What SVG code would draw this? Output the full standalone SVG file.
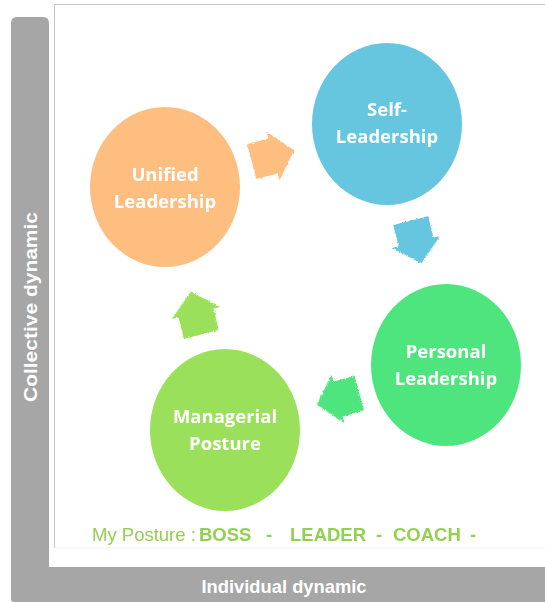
<svg xmlns="http://www.w3.org/2000/svg" width="545" height="603" viewBox="0 0 545 603">
<defs>
<style>
.node-text{font-family:"Open Sans","Noto Sans",sans-serif;font-weight:700;font-size:18.5px;fill:#ffffff;text-anchor:middle}
.axis{font-family:"Liberation Sans",Arial,sans-serif;font-weight:700;font-size:19px;fill:#ffffff;text-anchor:middle}
.posture{font-family:"Liberation Sans",Arial,sans-serif;font-size:18.5px;fill:#92D050}
.posture-b{font-weight:700}
</style>
<filter id="rough" x="-20%" y="-20%" width="140%" height="140%">
<feTurbulence type="fractalNoise" baseFrequency="0.6" numOctaves="2" seed="3" result="n"/>
<feDisplacementMap in="SourceGraphic" in2="n" scale="3" xChannelSelector="R" yChannelSelector="G"/>
</filter>
<path id="arrow" d="M-22,-18 L0,-18 L0,-25 L22,0 L0,25 L0,18 L-22,18 Z"/>
</defs>
<rect width="545" height="603" fill="#ffffff"/>
<g id="axes">
<path d="M11,23 Q11,17 17,17 L43,17 Q49,17 49,23 L49,567 L545,567 L545,602 L14,602 Q11,602 11,599 Z" fill="#A6A6A6"/>
<line x1="54.5" y1="4.5" x2="545" y2="4.5" stroke="#C4C4C4" stroke-width="1"/>
<line x1="54.5" y1="4.5" x2="54.5" y2="548" stroke="#C4C4C4" stroke-width="1"/>
<line x1="54.5" y1="548" x2="545" y2="548" stroke="#F2F2F2" stroke-width="1"/>
<text class="axis" transform="translate(37,307) rotate(-90)" textLength="190" lengthAdjust="spacingAndGlyphs">Collective dynamic</text>
<text class="axis" x="284" y="593" textLength="165" lengthAdjust="spacingAndGlyphs">Individual dynamic</text>
</g>
<g id="connectors" filter="url(#rough)">
<use href="#arrow" fill="#FDBE80" transform="translate(273,156) rotate(-15)"/>
<use href="#arrow" fill="#66C6DF" transform="translate(416,242) rotate(76)"/>
<use href="#arrow" fill="#4FE57E" transform="translate(338,399) rotate(165)"/>
<use href="#arrow" fill="#9BE05A" transform="translate(196,313) rotate(-104)"/>
</g>
<g id="node-self">
<ellipse cx="387" cy="124" rx="75" ry="81" fill="#66C6DF"/>
<text class="node-text" x="387" y="116">Self-</text>
<text class="node-text" x="387" y="143">Leadership</text>
</g>
<g id="node-unified">
<ellipse cx="165" cy="187" rx="75" ry="80" fill="#FDBE80"/>
<text class="node-text" x="165" y="181">Unified</text>
<text class="node-text" x="165" y="208">Leadership</text>
</g>
<g id="node-personal">
<ellipse cx="446" cy="365" rx="75" ry="81" fill="#4FE57E"/>
<text class="node-text" x="446" y="358">Personal</text>
<text class="node-text" x="446" y="385">Leadership</text>
</g>
<g id="node-managerial">
<ellipse cx="225" cy="430" rx="75" ry="81" fill="#9BE05A"/>
<text class="node-text" x="225" y="423">Managerial</text>
<text class="node-text" x="225" y="450">Posture</text>
</g>
<g id="posture-line">
<text class="posture" x="92" y="541">My Posture :</text>
<text class="posture posture-b" x="199" y="541">BOSS</text>
<text class="posture posture-b" x="266" y="541">-</text>
<text class="posture posture-b" x="290" y="541">LEADER</text>
<text class="posture posture-b" x="376" y="541">-</text>
<text class="posture posture-b" x="393" y="541">COACH</text>
<text class="posture posture-b" x="470" y="541">-</text>
</g>
</svg>
